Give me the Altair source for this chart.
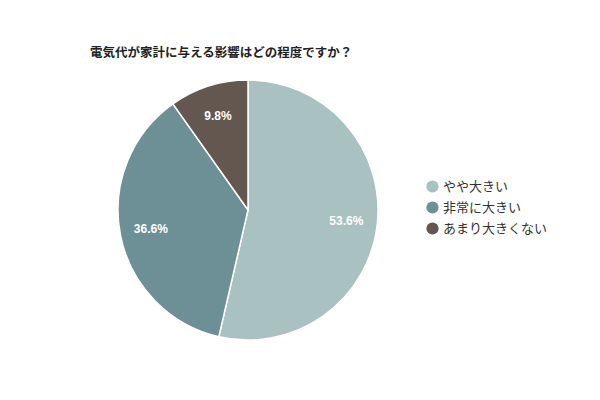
import altair as alt
import pandas as pd

categories = ["やや大きい", "非常に大きい", "あまり大きくない"]
values = [53.6, 36.6, 9.8]
labels = ["53.6%", "36.6%", "9.8%"]
colors = ["#a9c1c1", "#6c9095", "#63574f"]
title_text = "電気代が家計に与える影響はどの程度ですか？"

df = pd.DataFrame({"cat": categories, "val": values, "label": labels, "ord": list(range(len(categories)))})

FONT = 'Liberation Sans, "Noto Sans CJK JP", sans-serif'
CX, CY = 240, 202

base = alt.Chart(df).encode(
    theta=alt.Theta("val:Q", stack=True),
    order=alt.Order("ord:Q"),
)

pie = base.mark_arc(outerRadius=130, stroke="white", strokeWidth=1.5).encode(
    x=alt.value(CX), y=alt.value(CY),
    color=alt.Color(
        "cat:N",
        scale=alt.Scale(domain=categories, range=colors),
        sort=categories,
        legend=alt.Legend(
            title=None, orient="none", legendX=418, legendY=172,
            symbolType="circle", symbolSize=150, labelFont=FONT,
            labelFontSize=13, labelColor="#333333", rowPadding=7,
            symbolStrokeWidth=0,
        ),
    ),
)

text = base.mark_text(radius=99, font=FONT, fontSize=12, fontWeight="bold", color="white").encode(
    x=alt.value(CX), y=alt.value(CY),
    text="label:N",
)

title = alt.Chart(pd.DataFrame({"t": [title_text]})).mark_text(
    align="left", baseline="middle", font=FONT, fontSize=12.5, fontWeight="bold", color="#222222"
).encode(x=alt.value(82), y=alt.value(45), text="t:N")

chart = alt.layer(pie, text, title).properties(
    width=584, height=384, autosize=alt.AutoSizeParams(type="none"), padding=0
).configure_view(stroke=None)

chart.save("out.html", embed_options={"renderer": "svg", "actions": False})
